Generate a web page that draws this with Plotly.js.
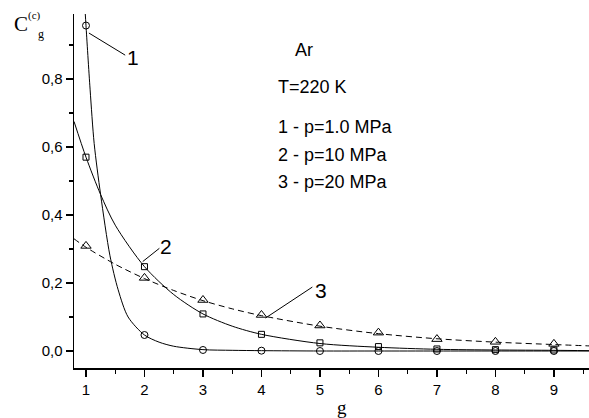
<!DOCTYPE html>
<html>
<head>
<meta charset="utf-8">
<script src="https://cdn.plot.ly/plotly-3.0.1.min.js"></script>
<style>html,body{margin:0;padding:0;background:#fff;}#chart{width:589px;height:418px;}</style>
</head>
<body>
<div id="chart"></div>
<script>
// Measured points (g = cluster size)
var gValues = [1, 2, 3, 4, 5, 6, 7, 8, 9];
var series1 = [0.957, 0.047, 0.003, 0.001, 0.0, 0.0, 0.0, 0.0, 0.0];      // p = 1.0 MPa
var series2 = [0.57, 0.248, 0.109, 0.049, 0.024, 0.013, 0.006, 0.004, 0.003]; // p = 10 MPa
var series3 = [0.309, 0.215, 0.15, 0.106, 0.075, 0.054, 0.035, 0.027, 0.021]; // p = 20 MPa

// Fitted curves
var curve1X = [0.985, 1.0, 1.07, 1.14, 1.25, 1.41, 1.55, 1.72, 2.0, 2.25, 2.5, 3.0, 3.5, 4.0, 5, 6, 7, 8, 9, 9.6];
var curve1Y = [1.0, 0.957, 0.77, 0.61, 0.46, 0.28, 0.18, 0.1, 0.047, 0.026, 0.014, 0.004, 0.002, 0.001, 0, 0, 0, 0, 0, 0];
var curve2X = [0.795, 1, 1.25, 1.5, 2, 2.5, 3, 3.5, 4, 5, 6, 7, 8, 9, 9.6];
var curve2Y = [0.675, 0.57, 0.46, 0.37, 0.248, 0.166, 0.109, 0.073, 0.049, 0.022, 0.011, 0.005, 0.003, 0.002, 0.001];
var curve3X = [0.795, 1, 1.5, 2, 2.5, 3, 3.5, 4, 5, 6, 7, 8, 9, 9.6];
var curve3Y = [0.33, 0.305, 0.255, 0.213, 0.178, 0.148, 0.124, 0.104, 0.073, 0.051, 0.036, 0.026, 0.019, 0.015];

var xTickVals = [1, 2, 3, 4, 5, 6, 7, 8, 9];
var yTickVals = [0.0, 0.2, 0.4, 0.6, 0.8];
var yTickText = ['0,0', '0,2', '0,4', '0,6', '0,8'];

var infoLines = ['Ar', 'T=220 K', '1 - p=1.0 MPa', '2 - p=10 MPa', '3 - p=20 MPa'];
var curveLabels = ['1', '2', '3'];

var black = '#000';
var traces = [
  {x: curve1X, y: curve1Y, mode: 'lines', line: {color: black, width: 1, shape: 'spline', smoothing: 0.8}, hoverinfo: 'skip'},
  {x: curve2X, y: curve2Y, mode: 'lines', line: {color: black, width: 1, shape: 'spline', smoothing: 0.8}, hoverinfo: 'skip'},
  {x: curve3X, y: curve3Y, mode: 'lines', line: {color: black, width: 1, dash: '6px,4px', shape: 'spline', smoothing: 0.8}, hoverinfo: 'skip'},
  {x: gValues, y: series1, mode: 'markers', marker: {symbol: 'circle-open', size: 7, color: black, line: {width: 1, color: black}}},
  {x: gValues, y: series2, mode: 'markers', marker: {symbol: 'square-open', size: 6, color: black, line: {width: 1, color: black}}},
  {x: gValues, y: series3, mode: 'markers', marker: {symbol: 'triangle-up-open', size: 9, color: black, line: {width: 1, color: black}}}
];

var txtFont = {family: 'Liberation Sans, Arial, sans-serif', size: 18, color: black};
var serif = 'Liberation Serif, Times New Roman, serif';

function px2paperX(px) { return (px - 74) / 515; }
function px2paperY(py) { return (368 - py) / 354; }

var infoY = [50, 87, 127, 155, 182];
var infoX = [293, 276, 276, 276, 276];
var annotations = [];
for (var i = 0; i < infoLines.length; i++) {
  annotations.push({xref: 'paper', yref: 'paper', x: px2paperX(infoX[i]), y: px2paperY(infoY[i]),
    xanchor: 'left', yanchor: 'middle', text: infoLines[i], showarrow: false, font: txtFont});
}
// curve labels with leader lines
var labelPos = [[1.80, 0.862], [2.37, 0.306], [5.02, 0.178]];
for (var j = 0; j < curveLabels.length; j++) {
  annotations.push({xref: 'x', yref: 'y', x: labelPos[j][0], y: labelPos[j][1], text: curveLabels[j],
    showarrow: false, xanchor: 'center', yanchor: 'middle', font: {family: 'Liberation Sans, Arial, sans-serif', size: 21, color: black}});
}
// axis titles
annotations.push({xref: 'paper', yref: 'paper', x: px2paperX(342), y: px2paperY(407), text: 'g', showarrow: false,
  xanchor: 'center', yanchor: 'middle', font: {family: serif, size: 19, color: black}});
annotations.push({xref: 'paper', yref: 'paper', x: px2paperX(21), y: px2paperY(24), text: 'C', showarrow: false,
  xanchor: 'center', yanchor: 'middle', font: {family: serif, size: 21, color: black}});
annotations.push({xref: 'paper', yref: 'paper', x: px2paperX(34), y: px2paperY(15), text: '(c)', showarrow: false,
  xanchor: 'center', yanchor: 'middle', font: {family: serif, size: 11, color: black}});
annotations.push({xref: 'paper', yref: 'paper', x: px2paperX(41), y: px2paperY(34), text: 'g', showarrow: false,
  xanchor: 'center', yanchor: 'middle', font: {family: serif, size: 12, color: black}});

var shapes = [
  {type: 'line', xref: 'x', yref: 'y', x0: 1.05, y0: 0.935, x1: 1.67, y1: 0.87, line: {color: black, width: 1}},
  {type: 'line', xref: 'x', yref: 'y', x0: 1.97, y0: 0.263, x1: 2.255, y1: 0.302, line: {color: black, width: 1}},
  {type: 'line', xref: 'x', yref: 'y', x0: 4.07, y0: 0.097, x1: 4.87, y1: 0.188, line: {color: black, width: 1}}
];

var layout = {
  width: 589, height: 418,
  margin: {l: 74, r: 0, t: 14, b: 50, pad: 0},
  paper_bgcolor: '#fff', plot_bgcolor: '#fff',
  showlegend: false,
  font: {family: 'Liberation Sans, Arial, sans-serif', size: 15, color: black},
  xaxis: {
    range: [0.795, 9.6], showgrid: false, zeroline: false,
    showline: true, linecolor: black, linewidth: 1.5,
    ticks: 'outside', ticklen: 7, tickwidth: 1.2, tickcolor: black,
    tickvals: xTickVals, ticktext: xTickVals.map(String),
    minor: {dtick: 0.5, tick0: 0.5, ticks: 'outside', ticklen: 4, tickwidth: 1.2, tickcolor: black, showgrid: false},
    tickfont: {size: 15}
  },
  yaxis: {
    range: [-0.05, 0.991], showgrid: false, zeroline: false,
    showline: true, linecolor: black, linewidth: 1.5,
    ticks: 'outside', ticklen: 7, tickwidth: 1.2, tickcolor: black,
    tickvals: yTickVals, ticktext: yTickText,
    minor: {dtick: 0.1, tick0: 0.1, ticks: 'outside', ticklen: 4, tickwidth: 1.2, tickcolor: black, showgrid: false},
    tickfont: {size: 15}
  },
  annotations: annotations,
  shapes: shapes
};

Plotly.newPlot('chart', traces, layout, {staticPlot: true, displayModeBar: false});
</script>
</body>
</html>
